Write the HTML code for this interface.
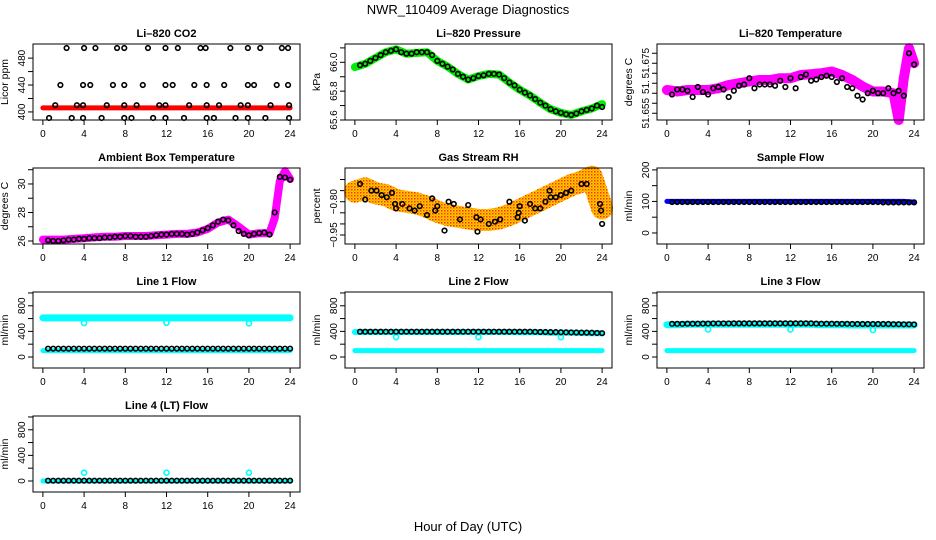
<!DOCTYPE html>
<html><head><meta charset="utf-8"><style>
html,body{margin:0;padding:0;background:#fff;}
svg{display:block;font-family:"Liberation Sans",Arial,sans-serif;}
</style></head><body>
<svg id="chart" width="936" height="540" viewBox="0 0 936 540" xmlns="http://www.w3.org/2000/svg">
<defs>
<pattern id="rhpat" width="3" height="3" patternUnits="userSpaceOnUse"><rect width="3" height="3" fill="#ffd000"/><rect x="0" y="0" width="1.5" height="1.5" fill="#ff3000"/><rect x="1.5" y="1.5" width="1.5" height="1.5" fill="#ffa500"/></pattern>
</defs>
<text x="468" y="14" text-anchor="middle" font-size="13">NWR_110409  Average Diagnostics</text>
<text x="468" y="531" text-anchor="middle" font-size="13">Hour of Day (UTC)</text>
<g id="panels"></g>
</svg>
<script>
// ---- shared data ----
const hourTicks = [0,4,8,12,16,20,24];
const hours24 = [0,1,2,3,4,5,6,7,8,9,10,11,12,13,14,15,16,17,18,19,20,21,22,23,24];
const hours48 = [0.5,1,1.5,2,2.5,3,3.5,4,4.5,5,5.5,6,6.5,7,7.5,8,8.5,9,9.5,10,10.5,11,11.5,12,12.5,13,13.5,14,14.5,15,15.5,16,16.5,17,17.5,18,18.5,19,19.5,20,20.5,21,21.5,22,22.5,23,23.5,24];

// CO2
const co2Band = [406,406,406,406,406,406,406,406,406,406,406,406,406,406,406,406,406,406,406,406,406,406,406,406,406];
const co2HighHours = [2.3,4.0,5.1,7.2,7.9,10.2,11.9,13.1,15.3,15.8,18.2,19.9,21.1,23.2,23.8];
const co2MidHours = [1.7,3.9,4.6,6.8,7.9,9.7,11.9,12.6,14.7,15.9,17.6,19.9,20.5,22.7,23.8];
const co2LowHours = [1.2,3.3,3.9,6.2,7.9,9.1,11.3,11.9,14.2,15.9,17.1,19.2,19.9,22.1,23.9];
const co2MinHours = [0.6,2.8,3.9,5.7,7.9,8.6,10.7,11.9,13.7,15.9,16.6,18.7,19.9,21.6,23.9];
const co2Levels = [495,440,410,391];

// Pressure
const presLine = [65.967,65.99,66.03,66.07,66.09,66.06,66.065,66.07,66.01,65.97,65.92,65.88,65.905,65.92,65.915,65.86,65.81,65.77,65.72,65.675,65.65,65.635,65.66,65.68,65.71];
const presPts = [65.98,65.99,66.01,66.03,66.05,66.07,66.08,66.09,66.07,66.06,66.06,66.07,66.07,66.07,66.05,66.01,65.99,65.97,65.95,65.92,65.9,65.88,65.89,65.905,65.91,65.92,65.92,65.915,65.89,65.86,65.84,65.81,65.79,65.77,65.745,65.72,65.70,65.675,65.66,65.65,65.64,65.635,65.645,65.66,65.67,65.68,65.70,65.69];

// Li-820 temperature
const tempHours = [0,1,2,3,4,5,6,7,8,9,10,11,12,13,14,15,16,17,18,19,20,21,22,22.5,23,23.5,24];
const tempLine = [51.6643,51.6637,51.6643,51.6643,51.6643,51.665,51.6663,51.667,51.6677,51.6683,51.6683,51.669,51.669,51.6703,51.6706,51.671,51.6717,51.6703,51.6683,51.6657,51.6637,51.6637,51.663,51.6523,51.669,51.681,51.675];
const tempPts = [51.6625,51.6645,51.6645,51.664,51.6615,51.6655,51.6635,51.6625,51.6650,51.6655,51.6645,51.6615,51.6640,51.6660,51.6665,51.6690,51.6650,51.6665,51.6665,51.6665,51.6660,51.6680,51.6655,51.6690,51.6650,51.6695,51.6705,51.6680,51.6685,51.6695,51.6700,51.6695,51.6675,51.6690,51.6655,51.6650,51.6620,51.6605,51.6630,51.6640,51.6630,51.6630,51.6650,51.6630,51.6640,51.6620,51.6790,51.6745];

// Ambient box temperature
const ambLine = [26.1,26.1,26.1,26.15,26.2,26.25,26.3,26.3,26.35,26.35,26.35,26.4,26.45,26.5,26.5,26.6,26.85,27.3,27.5,27.0,26.45,26.55,26.55,30.2,30.35];
const ambHoursExtra = [22.5,23.5];
const ambExtra = [27.6,30.9];
const ambPts = [26.05,26.0,26.0,26.05,26.1,26.1,26.15,26.15,26.2,26.2,26.2,26.25,26.25,26.3,26.3,26.35,26.35,26.3,26.3,26.3,26.35,26.4,26.45,26.45,26.5,26.5,26.5,26.45,26.5,26.6,26.75,26.9,27.1,27.35,27.5,27.45,27.1,26.7,26.5,26.4,26.5,26.55,26.6,26.45,28.0,30.5,30.45,30.3];

// Gas stream RH
const rhLine = [-0.755,-0.74,-0.762,-0.77,-0.7925,-0.80,-0.8075,-0.8225,-0.845,-0.86,-0.8675,-0.875,-0.8825,-0.8825,-0.875,-0.86,-0.8375,-0.815,-0.7925,-0.77,-0.7475,-0.725,-0.71,-0.6875,-0.83];
const rhPtsHours = [0.5,1,1.6,2.1,2.6,3.1,3.6,3.9,4.0,4.6,5.3,5.8,6.3,7.0,7.5,7.8,8.0,8.7,9.1,9.6,10.2,11.0,11.8,11.9,12.2,13.0,13.6,14.1,15.0,15.8,15.9,16.0,16.5,17.0,17.5,18.0,18.5,18.9,19.0,19.5,20.0,20.5,21.0,22.0,22.5,23.8,23.9,24.0];
const rhPts = [-0.72,-0.79,-0.75,-0.75,-0.77,-0.78,-0.76,-0.81,-0.83,-0.81,-0.83,-0.84,-0.82,-0.86,-0.785,-0.84,-0.82,-0.93,-0.80,-0.81,-0.88,-0.815,-0.87,-0.935,-0.88,-0.90,-0.89,-0.88,-0.80,-0.87,-0.85,-0.82,-0.885,-0.81,-0.83,-0.83,-0.80,-0.75,-0.78,-0.78,-0.77,-0.76,-0.75,-0.72,-0.72,-0.81,-0.84,-0.90];

// Sample flow
const sampleLine = [100,100,100,100,100,100,100,100,100,100,100,100,100,100,100,100,100,100,100,100,100,100,100,100,98];
const samplePts = [98,98,98,98,98,98,98,98,98,98,98,98,98,98,98,98,98,98,98,98,98,98,98,98,98,98,98,98,98,98,98,98,98,98,98,98,98,98,98,98,98,97,97,97,97,97,97,97];

// Line flows
const spikeHours = [4,12,20];
const l1High = [610,610,610,610,610,610,610,610,610,610,610,610,610,610,610,610,610,610,610,610,610,610,610,610,610];
const l1Low = [100,100,100,100,100,100,100,100,100,100,100,100,100,100,100,100,100,100,100,100,100,100,100,100,100];
const l1Spike = [530,535,525];
const l1Pts = [130,130,130,130,130,130,130,130,130,130,130,130,130,130,130,130,130,130,130,130,130,130,130,130,130,130,130,130,130,130,130,130,130,130,130,130,130,130,130,130,130,130,130,130,130,130,130,130];
const l2High = [390,390,390,390,390,390,390,390,390,390,390,390,390,390,390,390,385,385,385,380,380,378,375,372,370];
const l2Low = [100,100,100,100,100,100,100,100,100,100,100,100,100,100,100,100,100,100,100,100,100,100,100,100,100];
const l2Spike = [310,310,310];
const l2Pts = [395,395,395,395,395,395,395,395,395,395,395,395,395,395,395,395,395,395,395,395,395,395,395,395,395,395,395,395,395,395,395,395,395,395,393,390,390,388,388,386,385,383,382,380,380,378,375,372];
const l3High = [505,505,510,510,510,510,510,510,510,510,510,510,510,510,510,505,505,505,500,500,500,500,500,500,500];
const l3Low = [100,100,100,100,100,100,100,100,100,100,100,100,100,100,100,100,100,100,100,100,100,100,100,100,100];
const l3Spike = [430,430,420];
const l3Pts = [518,518,518,520,520,520,522,522,524,524,524,524,525,525,525,525,525,525,525,525,525,525,525,525,525,525,525,525,522,520,520,520,518,518,518,516,516,515,515,515,515,515,515,512,512,510,510,508];
const l4Line = [0,0,0,0,0,0,0,0,0,0,0,0,0,0,0,0,0,0,0,0,0,0,0,0,0];
const l4Spike = [130,130,130];
const l4Pts = [5,5,5,5,5,5,5,5,5,5,5,5,5,5,5,5,5,5,5,5,5,5,5,5,5,5,5,5,5,5,5,5,5,5,5,5,5,5,5,5,5,5,5,5,5,5,5,5];

// ---- drawing helpers ----
const NS = "http://www.w3.org/2000/svg";
const root = document.getElementById('panels');
function mk(tag, attrs, parent){
  const e = document.createElementNS(NS, tag);
  for (const k in attrs) e.setAttribute(k, attrs[k]);
  (parent||root).appendChild(e);
  return e;
}
const COLS = [33,345,657], TOPS = [44,168,292,416], W = 267, H = 76;

function panel(name, col, row, title, ylab, ylim, yticks, ylabels){
  const x0 = COLS[col], y0 = TOPS[row];
  const g = mk('g', {});
  
  
  const sx = h => x0 + W * (h + 0.96) / 25.92;
  const sy = v => y0 + H - H * (v - ylim[0]) / (ylim[1] - ylim[0]);
  const t = mk('text', {x: x0 + W/2, y: y0 - 7, 'text-anchor':'middle', 'font-size':11, 'font-weight':'bold'}, g);
  t.textContent = title;
  
  
  const yl = mk('text', {x: 0, y: 0, 'text-anchor':'middle', 'font-size':10.5, transform:`translate(${x0-25},${y0+H/2}) rotate(-90)`}, g);
  yl.textContent = ylab;
  
  
  const ax = mk('g', {stroke:'#000','stroke-width':1}, g);
  
  
  hourTicks.forEach(h => {
    mk('line', {x1: sx(h), x2: sx(h), y1: y0+H, y2: y0+H+5}, ax);
    const tl = mk('text', {x: sx(h), y: y0+H+17, 'text-anchor':'middle', 'font-size':10, stroke:'none'}, ax);
    tl.textContent = h;
  });
  const ay = mk('g', {stroke:'#000','stroke-width':1}, g);
  
  
  yticks.forEach(v => mk('line', {x1: x0-5, x2: x0, y1: sy(v), y2: sy(v)}, ay));
  ylabels.forEach(l => {
    const tl = mk('text', {x:0, y:0, 'text-anchor':'middle', 'font-size':10, stroke:'none', transform:`translate(${x0-8},${sy(l[0])}) rotate(-90)`}, ay);
    tl.textContent = l[1];
  });
  const plot = mk('g', {}, g);
  const box = mk('rect', {x: x0, y: y0, width: W, height: H, fill:'none', stroke:'#000', 'stroke-width':1}, g);
  
  
  return {sx, sy, plot, name};
}
function band(p, xs, ys, color, width, fill){
  const d = xs.map((h,i)=>(i?'L':'M')+p.sx(h).toFixed(1)+','+p.sy(ys[i]).toFixed(1)).join('');
  const e = mk('path', {d, fill:'none', stroke: fill||color, 'stroke-width': width, 'stroke-linecap':'round', 'stroke-linejoin':'round'}, p.plot);
  
  
}
function circles(p, xs, ys, color, r, sw){
  const g = mk('g', {fill:'none', stroke: color, 'stroke-width': sw||1.6}, p.plot);
  
  
  xs.forEach((h,i) => mk('circle', {cx: p.sx(h), cy: p.sy(ys[i]), r: r||2.3}, g));
}

// CO2
let p = panel('co2', 0, 0, 'Li\u2013820 CO2', 'Licor ppm', [388,501], [400,420,440,460,480], [[400,'400'],[440,'440'],[480,'480']]);
band(p, hours24, co2Band, '#ff0000', 5);
[co2HighHours, co2MidHours, co2LowHours, co2MinHours].forEach((hs,k) => circles(p, hs, hs.map(()=>co2Levels[k]), '#000'));

// Pressure
p = panel('pressure', 1, 0, 'Li\u2013820 Pressure', 'kPa', [65.6,66.127], [65.6,65.7,65.8,65.9,66.0,66.1], [[65.6,'65.6'],[65.8,'65.8'],[66.0,'66.0']]);
band(p, hours24, presLine, '#00ee00', 8);
circles(p, hours48, presPts, '#000');

// Li-820 temperature
p = panel('li820-temp', 2, 0, 'Li\u2013820 Temperature', 'degrees C', [51.6523,51.6827], [51.655,51.659,51.663,51.667,51.671,51.675,51.679], [[51.655,'51.655'],[51.6655,'51.'],[51.675,'51.675']]);
band(p, tempHours, tempLine, '#ff00ff', 10);
circles(p, hours48, tempPts, '#000');

// Ambient box temperature
p = panel('ambient-temp', 0, 1, 'Ambient Box Temperature', 'degrees C', [25.79,31.12], [26,27,28,29,30,31], [[26,'26'],[28,'28'],[30,'30']]);
band(p, hours24.slice(0,23).concat(ambHoursExtra.slice(0,1), [23], ambHoursExtra.slice(1), [24]), ambLine.slice(0,23).concat(ambExtra.slice(0,1), [ambLine[23]], ambExtra.slice(1), [ambLine[24]]), '#ff00ff', 8);
circles(p, hours48, ambPts, '#000');

// Gas stream RH
p = panel('gas-rh', 1, 1, 'Gas Stream RH', 'percent', [-0.9905,-0.648], [-0.95,-0.90,-0.85,-0.80,-0.75,-0.70], [[-0.95,'\u22120.95'],[-0.80,'\u22120.80']]);
band(p, hours24, rhLine, '#ffa500', 22, 'url(#rhpat)');
circles(p, rhPtsHours, rhPts, '#000');

// Sample flow
p = panel('sample-flow', 2, 1, 'Sample Flow', 'ml/min', [-35,206], [0,50,100,150,200], [[0,'0'],[100,'100'],[200,'200']]);
band(p, hours24, sampleLine, '#0000ff', 5);
circles(p, hours48, samplePts, '#000');

const flowTicks = [0,200,400,600,800,1000], flowLabels = [[0,'0'],[400,'400'],[800,'800']];
// Line 1
p = panel('line1-flow', 0, 2, 'Line 1 Flow', 'ml/min', [-172,1015], flowTicks, flowLabels);
band(p, hours24, l1High, '#00ffff', 7);
band(p, hours24, l1Low, '#00ffff', 5);
circles(p, spikeHours, l1Spike, '#00ffff', 2.5, 1.6);
circles(p, hours48, l1Pts, '#000');
// Line 2
p = panel('line2-flow', 1, 2, 'Line 2 Flow', 'ml/min', [-172,1015], flowTicks, flowLabels);
band(p, hours24, l2High, '#00ffff', 6);
band(p, hours24, l2Low, '#00ffff', 5);
circles(p, spikeHours, l2Spike, '#00ffff', 2.5, 1.6);
circles(p, hours48, l2Pts, '#000');
// Line 3
p = panel('line3-flow', 2, 2, 'Line 3 Flow', 'ml/min', [-172,1015], flowTicks, flowLabels);
band(p, hours24, l3High, '#00ffff', 7);
band(p, hours24, l3Low, '#00ffff', 5);
circles(p, spikeHours, l3Spike, '#00ffff', 2.5, 1.6);
circles(p, hours48, l3Pts, '#000');
// Line 4
p = panel('line4-flow', 0, 3, 'Line 4 (LT) Flow', 'ml/min', [-172,1015], flowTicks, flowLabels);
band(p, hours24, l4Line, '#00ffff', 5);
circles(p, spikeHours, l4Spike, '#00ffff', 2.5, 1.6);
circles(p, hours48, l4Pts, '#000');
</script>
</body></html>
